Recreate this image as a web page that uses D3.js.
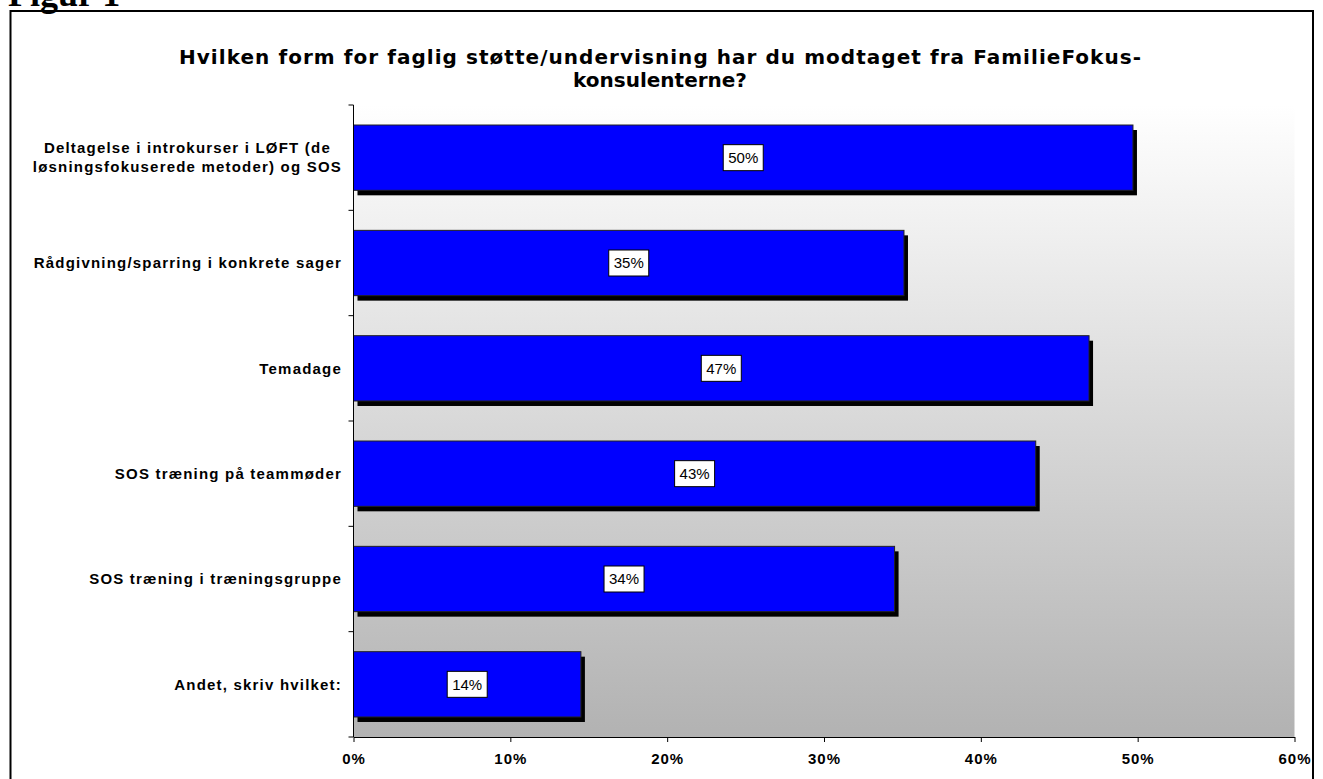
<!DOCTYPE html>
<html>
<head>
<meta charset="utf-8">
<script src="https://cdn.jsdelivr.net/npm/d3@7"></script>
<style>
  html, body { margin: 0; padding: 0; background: #ffffff; overflow: hidden; }
  svg { display: block; }
</style>
</head>
<body>
<svg id="chart" width="1323" height="779"></svg>
<script>
// ---- data ----
const categories = [
  ["Deltagelse i introkurser i LØFT (de", "løsningsfokuserede metoder) og SOS"],
  ["Rådgivning/sparring i konkrete sager"],
  ["Temadage"],
  ["SOS træning på teammøder"],
  ["SOS træning i træningsgruppe"],
  ["Andet, skriv hvilket:"]
];
const values = [49.7, 35.1, 46.9, 43.5, 34.5, 14.5];
const valueLabels = ["50%", "35%", "47%", "43%", "34%", "14%"];
const xTicks = [0, 10, 20, 30, 40, 50, 60];
const titleLines = [
  "Hvilken form for faglig støtte/undervisning har du modtaget fra FamilieFokus-",
  "konsulenterne?"
];
const figureLabel = "Figur 1";

// ---- layout ----
const svg = d3.select("#chart");
const plot = { left: 353.5, right: 1294.5, top: 105, bottom: 737 };

const x = d3.scaleLinear().domain([0, 60]).range([plot.left, plot.right]);
const y = d3.scaleBand().domain(d3.range(categories.length))
  .range([plot.top, plot.bottom]).paddingInner(0.38).paddingOuter(0.19);

// frame
svg.append("rect")
  .attr("x", 10.5).attr("y", 11).attr("width", 1302.5).attr("height", 800)
  .attr("fill", "#ffffff").attr("stroke", "#000").attr("stroke-width", 2);

// figure label (cut off at top, as in the reference)
svg.append("text")
  .attr("x", 8).attr("y", 6)
  .attr("font-family", "Liberation Serif, Times New Roman, serif")
  .attr("font-weight", "bold").attr("font-size", 36)
  .text(figureLabel);

// gradient background of plot area
const defs = svg.append("defs");
const grad = defs.append("linearGradient").attr("id", "bg")
  .attr("x1", 0).attr("y1", 0).attr("x2", 0).attr("y2", 1);
grad.append("stop").attr("offset", "0%").attr("stop-color", "#ffffff");
grad.append("stop").attr("offset", "100%").attr("stop-color", "#b2b2b2");

svg.append("rect")
  .attr("x", plot.left).attr("y", plot.top)
  .attr("width", plot.right - plot.left).attr("height", plot.bottom - plot.top)
  .attr("fill", "url(#bg)");

// title
const title = svg.append("text")
  .attr("text-anchor", "middle")
  .attr("font-family", "DejaVu Sans, Verdana, sans-serif")
  .attr("font-weight", "bold").attr("font-size", 20)
  .attr("fill", "#000");
titleLines.forEach((l, i) => {
  const ts = title.append("tspan").attr("x", 660).attr("y", 64 + i * 23).text(l);
  if (i === 0) ts.attr("textLength", 962).attr("lengthAdjust", "spacing");
});

// bars: shadow then bar
const g = svg.append("g");
const shadowOff = 5;
g.selectAll("rect.shadow").data(values).join("rect")
  .attr("class", "shadow")
  .attr("x", x(0) + shadowOff - 1)
  .attr("y", (d, i) => y(i) + shadowOff)
  .attr("width", d => x(d) - x(0))
  .attr("height", y.bandwidth())
  .attr("fill", "#000");
g.selectAll("rect.bar").data(values).join("rect")
  .attr("class", "bar")
  .attr("x", x(0))
  .attr("y", (d, i) => y(i))
  .attr("width", d => x(d) - x(0))
  .attr("height", y.bandwidth())
  .attr("fill", "#0000ff")
  .attr("stroke", "#222").attr("stroke-width", 1);

// value labels
const lab = g.selectAll("g.lab").data(values).join("g").attr("class", "lab")
  .attr("transform", (d, i) => `translate(${x(d / 2)},${y(i) + y.bandwidth() / 2})`);
lab.append("rect")
  .attr("x", -20).attr("y", -13).attr("width", 40).attr("height", 26)
  .attr("fill", "#fff").attr("stroke", "#000").attr("stroke-width", 1);
lab.append("text")
  .attr("text-anchor", "middle").attr("dy", "0.36em")
  .attr("font-family", "Liberation Sans, Arial, sans-serif")
  .attr("font-size", 15).attr("fill", "#000")
  .text((d, i) => valueLabels[i]);

// y axis line and ticks
const yAxis = svg.append("g");
yAxis.append("line")
  .attr("x1", plot.left).attr("x2", plot.left)
  .attr("y1", plot.top).attr("y2", plot.bottom)
  .attr("stroke", "#000").attr("stroke-width", 1);
const bandStep = (plot.bottom - plot.top) / categories.length;
yAxis.selectAll("line.tick").data(d3.range(categories.length + 1)).join("line")
  .attr("class", "tick")
  .attr("x1", plot.left - 5).attr("x2", plot.left)
  .attr("y1", i => plot.top + i * bandStep).attr("y2", i => plot.top + i * bandStep)
  .attr("stroke", "#000");

// category labels
categories.forEach((lines, i) => {
  const cy = y(i) + y.bandwidth() / 2;
  const t = svg.append("text")
    .attr("font-family", "Liberation Sans, Arial, sans-serif")
    .attr("font-weight", "bold").attr("font-size", 15)
    .attr("letter-spacing", 1.2)
    .attr("fill", "#000").attr("text-anchor", "middle");
  const lh = 19;
  lines.forEach((l, j) => {
    t.append("tspan").attr("x", 0)
      .attr("y", cy + (j - (lines.length - 1) / 2) * lh)
      .attr("dy", "0.35em").text(l);
  });
  const w = t.node().getBBox().width;
  t.selectAll("tspan").attr("x", 342 - w / 2);
});

// x axis
const xAxis = d3.axisBottom(x).tickValues(xTicks).tickFormat(d => d + "%")
  .tickSize(5).tickSizeOuter(0);
const xg = svg.append("g").attr("transform", `translate(0,${plot.bottom})`).call(xAxis);
xg.select(".domain").attr("stroke", "#000");
xg.selectAll(".tick line").attr("stroke", "#000");
xg.selectAll(".tick text")
  .attr("font-family", "Liberation Sans, Arial, sans-serif")
  .attr("font-weight", "bold").attr("font-size", 15)
  .attr("letter-spacing", 1)
  .attr("fill", "#000").attr("y", 16);
</script>
</body>
</html>
